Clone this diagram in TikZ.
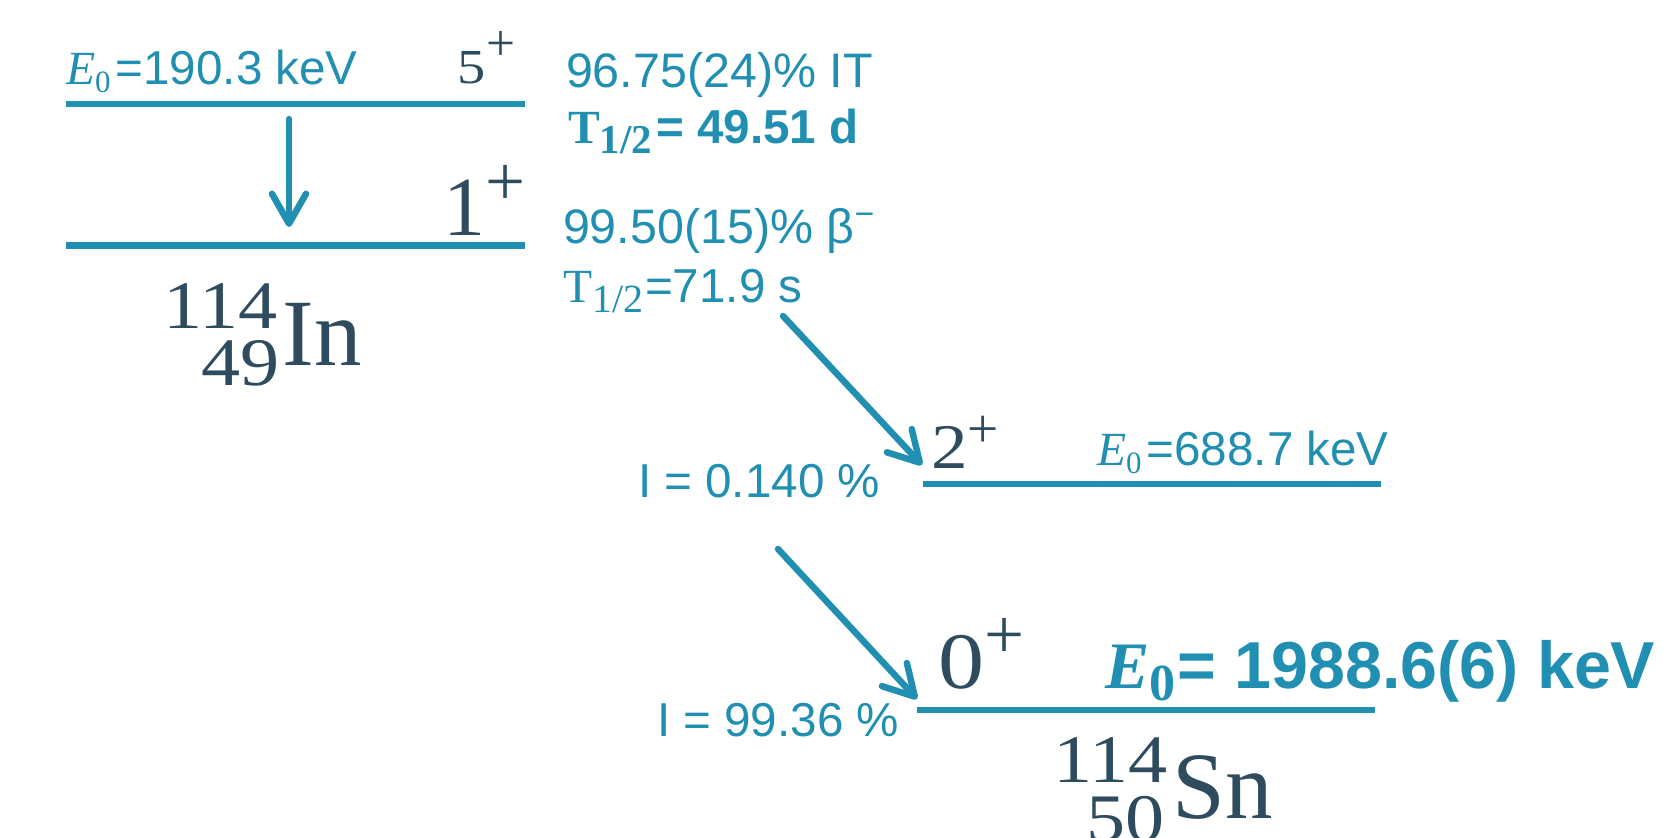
\RequirePackage{fix-cm}
\documentclass[tikz,border=0pt]{standalone}
\usepackage[no-math]{fontspec}
\setmainfont{Liberation Sans}
\newfontfamily\serifnuc{Liberation Serif}
\newfontfamily\serifwide[FakeStretch=1.15]{Liberation Serif}
\usetikzlibrary{arrows.meta}
\definecolor{nblue}{RGB}{32,143,177}
\definecolor{ndark}{RGB}{46,76,94}
% subscript helper: size, drop, text
\newcommand\mysub[3]{\raisebox{-#2}{\fontsize{#1}{#1}\selectfont #3}}
% spin label helper: digit, digit size, plus size, plus raise, family
\newcommand\myspin[5]{{#5\fontsize{#2}{#2}\selectfont #1{\serifnuc\raisebox{#4}{\fontsize{#3}{#3}\selectfont +}}}}
% nuclide helper: mass, Z, symbol, mass raise, Z drop, Z kern
\newcommand\mynucl[6]{{\serifwide\fontsize{34pt}{36pt}\selectfont
  \phantom{#1}\llap{\raisebox{#4}{#1}}\llap{\raisebox{-#5}{#2\kern#6}}}\kern2.5pt{\serifnuc\fontsize{47.5pt}{50pt}\selectfont #3}}
\tikzset{
  lbl/.style={inner sep=0pt, outer sep=0pt, anchor=base west, text=nblue, font=\fontsize{23.8}{28}\selectfont},
  spin/.style={inner sep=0pt, outer sep=0pt, anchor=base east, text=ndark},
  nuc/.style={inner sep=0pt, outer sep=0pt, anchor=base west, text=ndark},
  lvl/.style={line width=3.25pt, draw=nblue},
  trans/.style={line width=3.25pt, draw=nblue, line cap=round,
    -{Straight Barb[length=15pt,width=17pt,round]}}
}
\begin{document}
\begin{tikzpicture}[x=0.5pt,y=-0.5pt]
\path[use as bounding box] (0,0) rectangle (1663,837);
% levels
\coordinate (a1) at (66,104);  \coordinate (a2) at (525,104);
\coordinate (b1) at (66,245.5);\coordinate (b2) at (525,245.5);
\coordinate (c1) at (923,484); \coordinate (c2) at (1381,484);
\coordinate (d1) at (917,710); \coordinate (d2) at (1375,710);
\draw[lvl] (a1) -- (a2);
\draw[lvl] (b1) -- (b2);
\draw[lvl] (c1) -- (c2);
\draw[lvl] (d1) -- (d2);
% transitions
\coordinate (t1s) at (289,119); \coordinate (t1e) at (289,227);
\coordinate (t2s) at (783,316); \coordinate (t2e) at (922,465);
\coordinate (t3s) at (778,549); \coordinate (t3e) at (917,699);
\draw[trans] (t1s) -- (t1e);
\draw[trans] (t2s) -- (t2e);
\draw[trans] (t3s) -- (t3e);
% In-114 labels
\node[lbl] (e1) at (66,84) {{\serifnuc\itshape E}\mysub{15.5pt}{4pt}{\serifnuc 0}\kern2.5pt=190.3 keV};
\node[spin] (s5) at (515,83) {\myspin{5}{24.5pt}{25.7pt}{11.5pt}{\serifwide}};
\node[lbl, font=\fontsize{24.2}{28}\selectfont] (it) at (566,87) {96.75(24)\% IT};
\node[lbl, font=\fontsize{23.8}{28}\selectfont\bfseries] (th1) at (568,143) {{\serifnuc T}\mysub{20.5pt}{5pt}{\serifnuc 1/2}\kern2pt= 49.51 d};
\node[spin] (s1) at (526,235) {\myspin{1}{42pt}{35.5pt}{15pt}{\serifnuc}};
\node[lbl, font=\fontsize{24.2}{28}\selectfont] (bm) at (563,243) {99.50(15)\% β\textsuperscript{−}};
\node[lbl] (th2) at (563,302) {{\serifnuc T}\mysub{20pt}{5pt}{\serifnuc 1/2}\kern1pt=71.9 s};
\node[nuc] (in) at (163,365) {\mynucl{114}{49}{In}{18.5pt}{10pt}{-1pt}};
% Sn-114 labels
\node[spin] (s2) at (999,468) {\myspin{2}{31.8pt}{27.7pt}{10.5pt}{\serifwide}};
\node[lbl] (e2) at (1097,465) {{\serifnuc\itshape E}\mysub{15.5pt}{4pt}{\serifnuc 0}\kern2.5pt=688.7 keV};
\node[lbl] (i1) at (638,497) {I = 0.140 \%};
\node[spin] (s0) at (1025,688) {\myspin{0}{40pt}{35.5pt}{15pt}{\serifwide}};
\node[lbl, font=\fontsize{33.2}{36}\selectfont\bfseries] (e3) at (1105,688) {{\serifnuc\bfseries\itshape E}\mysub{26pt}{6pt}{\serifnuc\bfseries 0}\kern1pt= 1988.6(6) keV};
\node[lbl] (i2) at (657,736) {I = 99.36 \%};
\node[nuc] (sn) at (1053,818) {\mynucl{114}{50}{Sn}{18pt}{11.5pt}{1.5pt}};
\end{tikzpicture}
\end{document}
